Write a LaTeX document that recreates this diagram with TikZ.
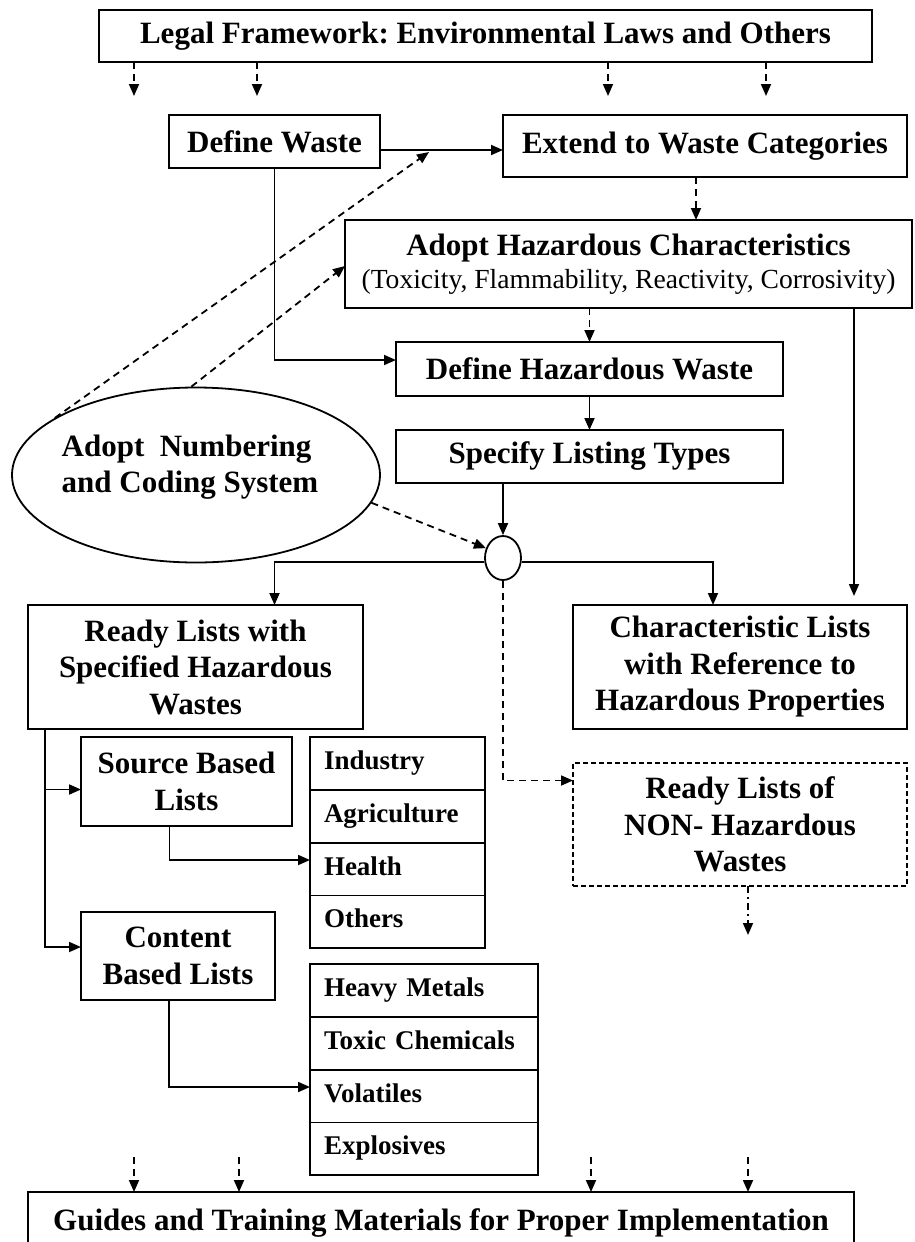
\documentclass[tikz,border=0pt]{standalone}
\usepackage{fontspec}
\setmainfont{Liberation Serif}
\usetikzlibrary{arrows.meta,positioning,shapes.geometric,calc}
\newcommand\boxfont{\fontsize{31}{36.5}\selectfont\bfseries}
\newcommand\itemfont{\fontsize{27}{32}\selectfont\bfseries}
\frenchspacing
\begin{document}
\begin{tikzpicture}[x=1pt,y=-1pt,line width=1.8pt,>={Triangle[length=12pt,width=10pt]}]
    % `block' is used for the framed boxes, `listitem' for the stacked lists.
    % `link', `dlink' and `ddlink' are the solid, dashed and dash-dotted arrows.
    \tikzstyle{block} = [draw,align=center,font=\boxfont,inner sep=0pt,outer sep=0pt,anchor=north west]
    \tikzstyle{listitem} = [draw,align=left,font=\itemfont,inner xsep=14pt,inner ysep=0pt,outer sep=0pt,
      text height=19pt,text depth=7pt,minimum height=52.8pt]
    \tikzstyle{link} = [->]
    \tikzstyle{dlink} = [->,dash pattern=on 7pt off 5pt]
    \tikzstyle{ddlink} = [->,dash pattern=on 7pt off 4pt on 2pt off 4pt]
    \useasboundingbox (0,0) rectangle (914,1242);
    %
    \node[block,minimum width=773,minimum height=52] (legal) at (99,10) {Legal Framework: Environmental Laws and Others};
    \node[block,minimum width=211,minimum height=53] (defw) at (169,115) {Define Waste};
    \node[block,minimum width=404,minimum height=62] (ext) at (503,115) {Extend to Waste Categories};
    \node[block,minimum width=567,minimum height=88] (adopt) at (345,220) {Adopt Hazardous Characteristics\\[-3pt]
      \normalfont\fontsize{27.6}{33}\selectfont (Toxicity, Flammability, Reactivity, Corrosivity)};
    \node[block,minimum width=387,minimum height=54] (defhw) at (396,342) {Define Hazardous Waste};
    \node[block,minimum width=387,minimum height=53] (spec) at (396,430) {Specify Listing Types};
    \node[draw,ellipse,inner sep=0pt,minimum width=36,minimum height=44] (junc) at (503,558) {};
    \node[draw,ellipse,inner sep=0pt,minimum width=368,minimum height=175] (numb) at (196,475) {};
    \node[align=left,font=\boxfont,inner sep=0pt] (numbtxt) at (190,467) {Adopt\ \ Numbering\\and Coding System};
    \node[block,minimum width=335,minimum height=124] (ready) at (28,605) {Ready Lists with\\Specified Hazardous\\Wastes};
    \node[block,minimum width=334,minimum height=124] (charl) at (573,605) {Characteristic Lists\\with Reference to\\Hazardous Properties};
    \node[block,dash pattern=on 5pt off 3pt,minimum width=334,minimum height=123] (nonh) at (573,763) {Ready Lists of\\NON- Hazardous\\Wastes};
    \node[block,minimum width=211,minimum height=89] (src) at (81,737) {Source Based\\Lists};
    \node[block,minimum width=194,minimum height=88] (cont) at (81,912) {Content\\Based Lists};
    % source list
    \node[listitem,text width=147pt,anchor=north west] (ind) at (310,737) {Industry};
    \node[listitem,text width=147pt,below=0pt of ind] (agr) {Agriculture};
    \node[listitem,text width=147pt,below=0pt of agr] (hlth) {Health};
    \node[listitem,text width=147pt,below=0pt of hlth] (oth) {Others};
    % content list
    \node[listitem,text width=200pt,anchor=north west] (hvy) at (310,964) {Heavy Metals};
    \node[listitem,text width=200pt,below=0pt of hvy] (tox) {Toxic Chemicals};
    \node[listitem,text width=200pt,below=0pt of tox] (vol) {Volatiles};
    \node[listitem,text width=200pt,below=0pt of vol] (expl) {Explosives};
    \node[block,minimum width=826,minimum height=62] (guide) at (28,1192) {Guides and Training Materials for Proper Implementation};
    %
    % Draw arrows from the legal framework and into the guides.
    \foreach \x [count=\i] in {134,257,608,766} {
      \coordinate (top\i) at (\x,96);
      \draw[dlink] (top\i |- legal.south) -- (top\i);
    }
    \foreach \x [count=\i] in {134,239,591,748} {
      \coordinate (bot\i) at (\x,1157);
      \draw[dlink] (bot\i) -- (bot\i |- guide.north);
    }
    % Draw main flow.
    \draw[link] (defw.east |- 0,150) -- (ext.west |- 0,150);
    \draw[dlink] ([xshift=-9]ext.south) -- ([xshift=-9]ext.south |- adopt.north);
    \draw[link] (defw.south) |- ([yshift=9]defhw.west);
    \draw[dlink] (adopt.south -| defhw.north) -- (defhw.north);
    \draw[link] (defhw.south) -- (spec.north);
    \draw[link] (spec.south -| junc.north) -- (junc.north);
    \draw[link,shorten >=9pt] ([xshift=-58]adopt.south east) -- ([xshift=-58]adopt.south east |- charl.north);
    \draw[link] ([yshift=-4]junc.west) -| ([xshift=79]ready.north);
    \draw[link] ([yshift=-4]junc.east) -| ([xshift=-27]charl.north);
    % Draw dashed arrows from the numbering system.
    \coordinate (catg) at (429,152);
    \draw[dlink] (numb.158) -- (catg);
    \draw[dlink] (numb.93) -- ([yshift=-2]adopt.west);
    \draw[dlink] (numb.-9) -- (junc.150);
    \draw[dlink] (junc.south) |- ([yshift=44]nonh.west);
    \coordinate (nonend) at (748,935);
    \draw[ddlink] (nonend |- nonh.south) -- (nonend);
    % Draw list branches.
    \coordinate (trunk) at ([xshift=17]ready.south west);
    \path ([yshift=-8]src.west) coordinate (srcin);
    \draw[link] (trunk) |- ([yshift=9]cont.west);
    \draw[link] (srcin -| trunk) -- (srcin);
    \draw[link] ([xshift=-17]src.south) |- ([yshift=9]hlth.west);
    \draw[link] ([xshift=-9]cont.south) |- ([yshift=9]vol.west);
\end{tikzpicture}
\end{document}
